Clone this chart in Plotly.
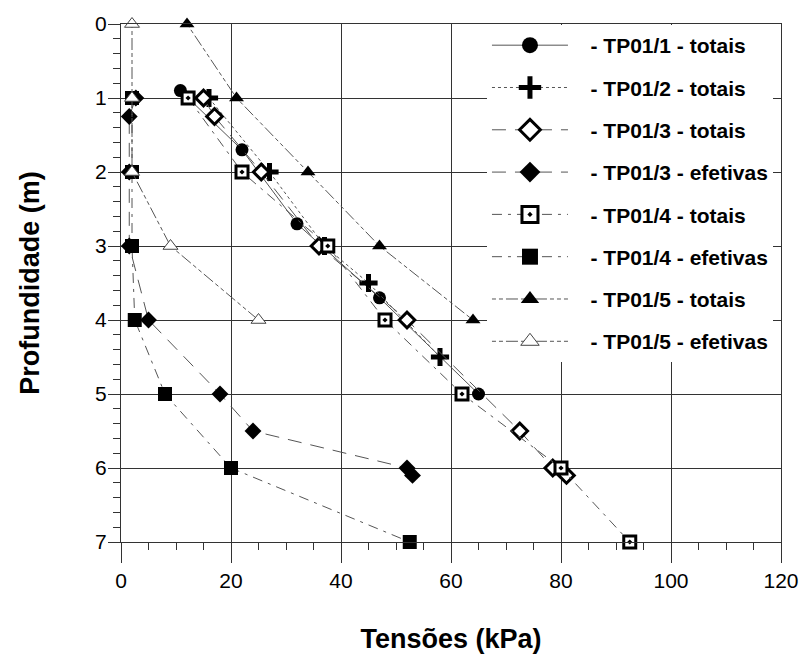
import plotly.graph_objects as go

# ---- data ----
tp1_x = [10.8, 22, 32, 47, 65]
tp1_y = [0.9, 1.7, 2.7, 3.7, 5.0]

tp2_x = [16, 27, 37, 45, 58]
tp2_y = [1, 2, 3, 3.5, 4.5]

tp3t_x = [15, 17, 25.5, 36, 52, 72.5, 78.5, 81]
tp3t_y = [1, 1.25, 2, 3, 4, 5.5, 6, 6.1]

tp3e_x = [2.7, 1.5, 1.5, 1.5, 5, 18, 24, 52, 53]
tp3e_y = [1, 1.25, 2, 3, 4, 5, 5.5, 6, 6.1]

tp4t_x = [12.2, 22, 37.6, 48, 62, 80, 92.5]
tp4t_y = [1, 2, 3, 4, 5, 6, 7]

tp4e_x = [2, 2, 2, 2.5, 8, 20, 52.5]
tp4e_y = [1, 2, 3, 4, 5, 6, 7]

tp5t_x = [12, 21, 34, 47, 64]
tp5t_y = [0, 1, 2, 3, 4]

tp5e_x = [2, 2, 2, 9, 25]
tp5e_y = [0, 1, 2, 3, 4]

names = ["- TP01/1 - totais", "- TP01/2 - totais", "- TP01/3 - totais",
         "- TP01/3 - efetivas", "- TP01/4 - totais", "- TP01/4 - efetivas",
         "- TP01/5 - totais", "- TP01/5 - efetivas"]

series = [(tp1_x, tp1_y), (tp2_x, tp2_y), (tp3t_x, tp3t_y), (tp3e_x, tp3e_y),
          (tp4t_x, tp4t_y), (tp4e_x, tp4e_y), (tp5t_x, tp5t_y), (tp5e_x, tp5e_y)]

styles = [
    dict(symbol="circle", size=13, color="black", lw=0, lc="black", dash="solid"),
    dict(symbol="cross-thin", size=13, color="black", lw=5, lc="black", dash="3px,3px"),
    dict(symbol="diamond", size=12, color="white", lw=3, lc="black", dash="14px,9px"),
    dict(symbol="diamond", size=13, color="black", lw=0, lc="black", dash="14px,9px"),
    dict(symbol="square-dot", size=12, color="white", lw=3, lc="black", dash="10px,6px,3px,6px"),
    dict(symbol="square", size=14, color="black", lw=0, lc="black", dash="10px,6px,3px,6px"),
    dict(symbol="triangle-up", size=13, color="black", lw=0, lc="black", dash="4px,3px,4px,3px,12px,3px"),
    dict(symbol="triangle-up", size=13, color="white", lw=1, lc="#444", dash="4px,3px,4px,3px,12px,3px"),
]

fig = go.Figure()
for i, ((xs, ys), nm, st) in enumerate(zip(series, names, styles)):
    line = dict(color="#555555", width=1, dash=st["dash"])
    fig.add_trace(go.Scatter(
        x=xs, y=ys, name=nm, mode="lines+markers", showlegend=False,
        cliponaxis=False, line=line,
        marker=dict(symbol=st["symbol"], size=st["size"], color=st["color"],
                    line=dict(width=st["lw"], color=st["lc"])),
    ))
    # legend entry with larger symbol
    fig.add_trace(go.Scatter(
        x=[None], y=[None], name="\u00a0\u00a0\u00a0" + nm, mode="lines+markers",
        legendgroup=f"g{i}", line=line,
        marker=dict(symbol=st["symbol"], size=st["size"] + 10, color=st["color"],
                    line=dict(width=st["lw"], color=st["lc"])),
    ))

fig.update_layout(
    width=801, height=657,
    margin=dict(l=121, r=20, t=24, b=115, autoexpand=False),
    paper_bgcolor="white", plot_bgcolor="white",
    font=dict(family="Liberation Sans, Arial, sans-serif", color="black"),
    showlegend=True,
    legend=dict(x=0.5545, y=0.998, xanchor="left", yanchor="top",
                bgcolor="white", borderwidth=0, itemwidth=76,
                tracegroupgap=12,
                font=dict(size=21, family="Liberation Sans, Arial, sans-serif",
                          weight="bold")),
    xaxis=dict(range=[0, 120], dtick=20, tick0=0, showgrid=True, automargin=False,
               gridcolor="#333333", gridwidth=1, showline=True, linecolor="#333333",
               mirror=True, ticks="outside", ticklen=20, tickcolor="#333333",
               tickfont=dict(size=21), zeroline=False, ticklabeloverflow="allow",
               minor=dict(dtick=5, ticks="outside", ticklen=7, tickcolor="#333333", showgrid=False),
               title=dict(text="<b>Tensões (kPa)</b>", font=dict(size=27), standoff=37)),
    yaxis=dict(range=[7, 0], dtick=1, tick0=0, showgrid=True, automargin=False,
               gridcolor="#333333", gridwidth=1, showline=True, linecolor="#333333",
               mirror=True, ticks="outside", ticklen=12, tickcolor="#333333",
               tickfont=dict(size=21), zeroline=False, ticklabelstandoff=-3,
               ticklabeloverflow="allow",
               minor=dict(dtick=0.2, ticks="outside", ticklen=7, tickcolor="#333333", showgrid=False),
               title=dict(text="<b>Profundidade (m)</b>", font=dict(size=27), standoff=47)),
)

# remove the default page margin so the 801x657 figure fills the window exactly
fig.write_html("out.html", config={"displayModeBar": False},
               post_script="document.body.style.margin='0';document.body.style.overflow='hidden';")
